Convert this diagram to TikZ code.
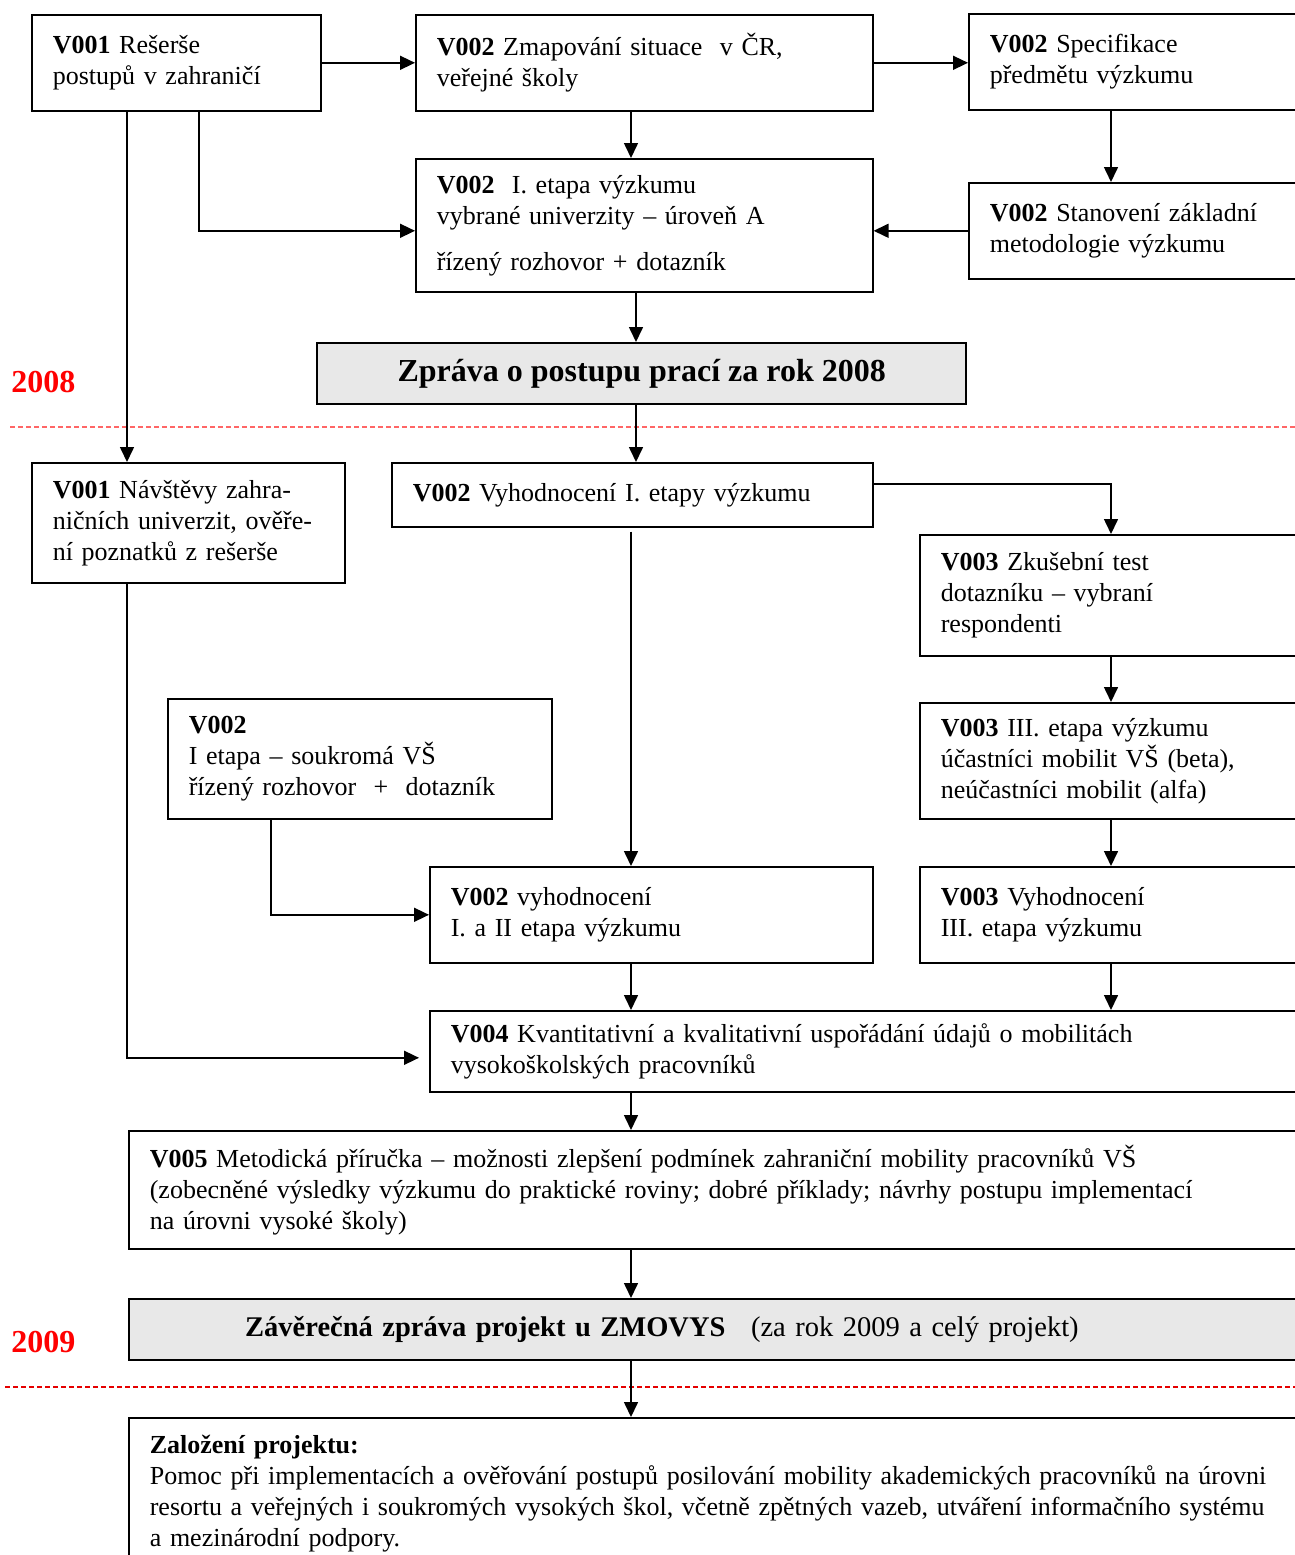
\documentclass[tikz,border=0pt]{standalone}
\usepackage{fontspec}
\setmainfont{Liberation Serif}
\usetikzlibrary{arrows.meta}
\newcommand{\bfs}{\fontsize{26}{31}\selectfont}
\newcommand{\tfs}{\fontsize{32}{36}\selectfont\bfseries}
\newcommand{\pfs}{\fontsize{28.5}{33}\selectfont}
\definecolor{boxgray}{HTML}{E8E8E8}
\begin{document}
\begin{tikzpicture}[x=1pt,y=-1pt,
  box/.style={draw, line width=1.6pt, anchor=north west, align=left, inner xsep=21pt, inner ysep=0pt, font=\bfs},
  graybox/.style={draw, line width=2.4pt, fill=boxgray, anchor=north west, inner ysep=0pt},
  arr/.style={line width=1.6pt, -{Triangle[length=15pt,width=14pt]}},
  year/.style={text=red, font=\tfs, inner sep=0pt},
  sep/.style={line width=1.3pt, dash pattern=on 5pt off 3pt}]
\fill[white] (0,0) rectangle (1295,1555);
\clip (0,0) rectangle (1295,1555);
% columns
\coordinate (cL) at (127,0);
\coordinate (cA) at (199,0);
\coordinate (cJ) at (271,0);
\coordinate (cM) at (631,0);
\coordinate (cF) at (636,0);
\coordinate (cR) at (1111,0);
% boxes
\node[box, minimum height=96pt, text width=247pt] (A) at (31,14) {\textbf{V001} Rešerše\\postupů v zahraničí};
\node[box, minimum height=96pt, text width=415pt] (B) at (415,14) {\textbf{V002} Zmapování situace\ \ v ČR,\\veřejné školy};
\node[box, minimum height=96pt, text width=292pt] (C) at (968,13) {\textbf{V002} Specifikace\\předmětu výzkumu};
\node[box, minimum height=133pt, text width=415pt] (D) at (415,158) {\textbf{V002}\ \ I. etapa výzkumu\\vybrané univerzity – úroveň A\\[15pt]řízený rozhovor + dotazník};
\node[box, minimum height=96pt, text width=292pt] (E) at (968,182) {\textbf{V002} Stanovení základní\\metodologie výzkumu};
\node[graybox, minimum height=61pt, minimum width=649pt, font=\tfs] (F) at (316,342) {Zpráva o postupu prací za rok 2008};
\node[year] (Y1) at (43.5,382) {2008};
\node[box, minimum height=120pt, text width=271pt] (G) at (31,462) {\textbf{V001} Návštěvy zahra-\\ničních univerzit, ověře-\\ní poznatků z rešerše};
\node[box, minimum height=64pt, text width=439pt] (H) at (391,462) {\textbf{V002} Vyhodnocení I. etapy výzkumu};
\node[box, minimum height=121pt, text width=341pt] (I) at (919,534) {\textbf{V003} Zkušební test\\dotazníku – vybraní\\respondenti};
\node[box, minimum height=120pt, text width=342pt] (J) at (167,698) {\textbf{V002}\\I etapa – soukromá VŠ\\řízený rozhovor\ \ +\ \ dotazník};
\node[box, minimum height=116pt, text width=341pt] (K) at (919,702) {\textbf{V003} III. etapa výzkumu\\účastníci mobilit VŠ (beta),\\neúčastníci mobilit (alfa)};
\node[box, minimum height=96pt, text width=401pt] (L) at (429,866) {\textbf{V002} vyhodnocení\\I. a II etapa výzkumu};
\node[box, minimum height=96pt, text width=341pt] (M) at (919,866) {\textbf{V003} Vyhodnocení\\III. etapa výzkumu};
\node[box, minimum height=81pt, text width=831pt] (N) at (429,1010) {\textbf{V004} Kvantitativní a kvalitativní uspořádání údajů o mobilitách\\vysokoškolských pracovníků};
\node[box, minimum height=118pt, text width=1250pt] (O) at (128,1130) {\textbf{V005} Metodická příručka – možnosti zlepšení podmínek zahraniční mobility pracovníků VŠ\\(zobecněné výsledky výzkumu do praktické roviny; dobré příklady; návrhy postupu implementací\\na úrovni vysoké školy)};
\node[graybox, minimum height=61pt, text width=942pt, inner xsep=116pt, align=left, font=\pfs] (P) at (128,1298) {\textbf{Závěrečná zpráva projekt u ZMOVYS}\hspace{0.9em}(za rok 2009 a celý projekt)};
\node[year] (Y2) at (43.5,1342) {2009};
\node[box, minimum height=152pt, text width=1250pt] (Q) at (128,1417) {\textbf{Založení projektu:}\\Pomoc při implementacích a ověřování postupů posilování mobility akademických pracovníků na úrovni\\resortu a veřejných i soukromých vysokých škol, včetně zpětných vazeb, utváření informačního systému\\a mezinárodní podpory.};
% separators
\draw[sep, red!60] (10,427) -- (1295,427);
\draw[sep, red!90!black] (5,1387) -- (1295,1387);
% connectors
\draw[arr] (A.east) -- (A.east -| B.west);
\draw[arr] (B.east) -- (B.east -| C.west);
\draw[arr] (cM |- B.south) -- (cM |- D.north);
\draw[arr] (cA |- A.south) |- ([yshift=-5.5pt]D.west);
\draw[arr] (cR |- C.south) -- (cR |- E.north);
\draw[arr] (E.west) -- (E.west -| D.east);
\draw[arr] (cF |- D.south) -- (cF |- F.north);
\draw[arr] (cL |- A.south) -- (cL |- G.north);
\draw[arr] (cF |- F.south) -- (cF |- H.north);
\draw[arr] ([yshift=11pt]H.east) -| (cR |- I.north);
\draw[arr] ([yshift=-4pt]cM |- H.south) -- (cM |- L.north);
\draw[arr] (cR |- I.south) -- (cR |- K.north);
\draw[arr] (cR |- K.south) -- (cR |- M.north);
\draw[arr] (cJ |- J.south) |- (L.west);
\draw[arr] (cM |- L.south) -- (cM |- N.north);
\draw[arr] (cR |- M.south) -- (cR |- N.north);
\draw[arr, shorten >=10pt] (cL |- G.south) |- ([yshift=-6.5pt]N.west);
\draw[arr] (cM |- N.south) -- (cM |- O.north);
\draw[arr] (cM |- O.south) -- (cM |- P.north);
\draw[arr] (cM |- P.south) -- (cM |- Q.north);
\end{tikzpicture}
\end{document}
